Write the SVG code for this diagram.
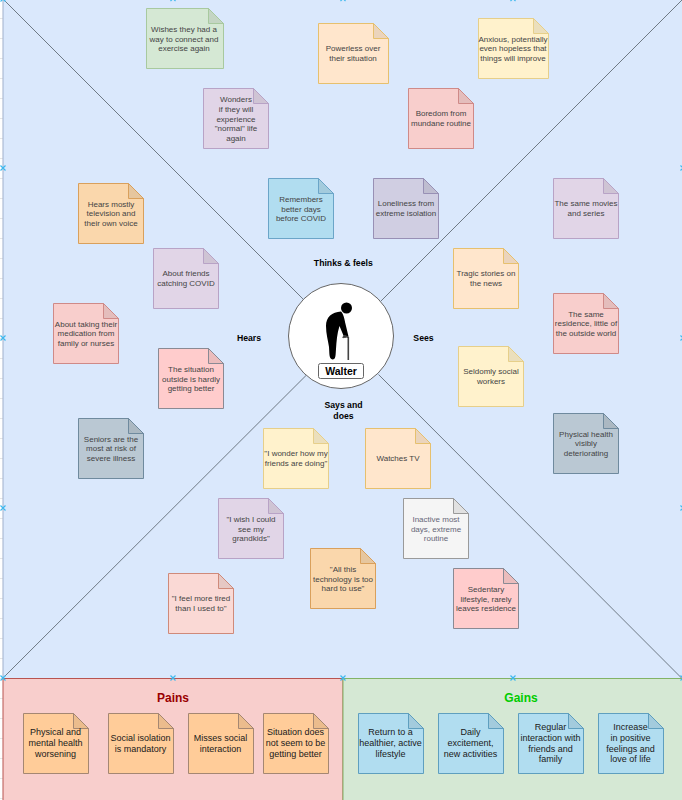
<svg xmlns="http://www.w3.org/2000/svg" width="682" height="800" viewBox="0 0 682 800">
<defs>
<path id="x" d="M-2.500-2.500L2.500 2.500M-2.500 2.500L2.500-2.500" fill="none" stroke="#3db8ee" stroke-width="1.200"/>
</defs>
<style>
text{font-family:"Liberation Sans",Arial,sans-serif;font-size:8px;text-anchor:middle;fill:#444}
.b{font-weight:bold;fill:#000;font-size:8.700px}
.pa text,.ga text{font-size:9px;fill:#1a1a1a}
.g path{fill:#d5e8d4;stroke:#a8c99f}
.o path{fill:#ffe6cc;stroke:#e6c06e}
.y path{fill:#fff2cc;stroke:#e6cf8a}
.p path{fill:#e1d5e7;stroke:#b8a3c6}
.r path{fill:#f8cecc;stroke:#cf8a88}
.h path{fill:#ffcccc;stroke:#8a8a94}
.u path{fill:#b1ddf0;stroke:#6ba5c8}
.l path{fill:#d0cee2;stroke:#9890b5}
.a path{fill:#fad7ac;stroke:#d9a05c}
.s path{fill:#bac8d3;stroke:#6f8a9e}
.w path{fill:#f5f5f5;stroke:#9a9a9a}
.w text{fill:#667}
.t path{fill:#fad9d5;stroke:#cf8a7a}
.pa path{fill:#ffcc99;stroke:#a58772}
.ga path{fill:#b1ddf0;stroke:#5f9fbf}
path.fold{fill:#000;fill-opacity:.08}
</style>
<rect width="682" height="800" fill="#fff"/>
<path d="M1.500 18V800" stroke="#e6e6e6" stroke-width="3" stroke-dasharray="1 19" fill="none"/>
<rect x="3" y="-1" width="680" height="680" fill="#dae8fc" stroke="#9fb0cc"/>
<g id="connectors" fill="none" stroke="#6f7a85" stroke-width="1">
<path d="M4 0L303 299"/>
<path d="M682 0L381 301"/>
<path d="M3 678L306 375.500"/>
<path d="M682 678.500L378.500 374.500"/>
</g>
<g id="pains-area"><rect x="3" y="678.500" width="340" height="122" fill="#f8cecc" stroke="#b85450"/><text class="b" x="173" y="702" style="font-size:12px;fill:#990000">Pains</text></g>
<g id="gains-area"><rect x="343" y="678.500" width="340" height="122" fill="#d5e8d4" stroke="#82b366"/><text class="b" x="521" y="702" style="font-size:12px;fill:#00cc00">Gains</text></g>
<g id="persona">
<circle cx="341" cy="336" r="52.500" fill="#fff" stroke="#666"/>
<circle cx="346.500" cy="308" r="5.500" fill="#000"/>
<path d="M341 311.500C332 312 326 317 326 326C326 334 328 340 329 347C329.500 354 329 359 332.500 359.500C336 359.500 335.500 355 336 349C336.500 341 337 334 339.500 326L344.500 338L348.500 336.500L345.500 324C344.500 319 343.500 314 341 311.500Z" fill="#000"/>
<path d="M343 338Q343.500 335.500 345.500 336L348.300 337.500V360" fill="none" stroke="#444" stroke-width="1.600"/>
<rect x="318.500" y="363.500" width="45" height="15" rx="2" fill="#fff" stroke="#666"/>
<text class="b" x="341" y="375" style="font-size:10.500px">Walter</text>
</g>
<g id="labels">
<text class="b" x="343.300" y="266">Thinks &amp; feels</text>
<text class="b" x="249" y="341">Hears</text>
<text class="b" x="423.500" y="341">Sees</text>
<text class="b" x="343.500" y="408">Says and</text>
<text class="b" x="343.500" y="419">does</text>
</g>
<g id="note-wishes" class="n g"><path d="M146.500 8.500H208.500L223.500 23.500V68.500H146.500Z"/><path class="fold" d="M208.500 8.500V23.500H223.500Z"/><text x="184" y="32">Wishes they had a</text><text x="184" y="41.500">way to connect and</text><text x="184" y="51">exercise again</text></g>
<g id="note-powerless" class="n o"><path d="M318.500 23.500H373.500L388.500 38.500V83.500H318.500Z"/><path class="fold" d="M373.500 23.500V38.500H388.500Z"/><text x="353" y="51">Powerless over</text><text x="353" y="61">their situation</text></g>
<g id="note-anxious" class="n y"><path d="M478.500 18.500H533.500L548.500 33.500V78.500H478.500Z"/><path class="fold" d="M533.500 18.500V33.500H548.500Z"/><text x="513" y="42">Anxious, potentially</text><text x="513" y="51">even hopeless that</text><text x="513" y="61">things will improve</text></g>
<g id="note-wonders" class="n p"><path d="M203.500 88.500H253.500L268.500 103.500V148.500H203.500Z"/><path class="fold" d="M253.500 88.500V103.500H268.500Z"/><text x="236" y="102">Wonders</text><text x="236" y="112">if they will</text><text x="236" y="121.500">experience</text><text x="236" y="131">"normal" life</text><text x="236" y="141">again</text></g>
<g id="note-boredom" class="n r"><path d="M408.500 88.500H458.500L473.500 103.500V148.500H408.500Z"/><path class="fold" d="M458.500 88.500V103.500H473.500Z"/><text x="441" y="116">Boredom from</text><text x="441" y="126">mundane routine</text></g>
<g id="note-remembers" class="n u"><path d="M268.500 178.500H318.500L333.500 193.500V238.500H268.500Z"/><path class="fold" d="M318.500 178.500V193.500H333.500Z"/><text x="301" y="202">Remembers</text><text x="301" y="211.500">better days</text><text x="301" y="221">before COVID</text></g>
<g id="note-loneliness" class="n l"><path d="M373.500 178.500H423.500L438.500 193.500V238.500H373.500Z"/><path class="fold" d="M423.500 178.500V193.500H438.500Z"/><text x="406" y="206">Loneliness from</text><text x="406" y="216">extreme isolation</text></g>
<g id="note-movies" class="n p"><path d="M553.500 178.500H603.500L618.500 193.500V238.500H553.500Z"/><path class="fold" d="M603.500 178.500V193.500H618.500Z"/><text x="586" y="206">The same movies</text><text x="586" y="216">and series</text></g>
<g id="note-hears" class="n a"><path d="M78.500 183.500H128.500L143.500 198.500V243.500H78.500Z"/><path class="fold" d="M128.500 183.500V198.500H143.500Z"/><text x="111" y="207">Hears mostly</text><text x="111" y="216">television and</text><text x="111" y="226">their own voice</text></g>
<g id="note-friends" class="n p"><path d="M153.500 248.500H203.500L218.500 263.500V308.500H153.500Z"/><path class="fold" d="M203.500 248.500V263.500H218.500Z"/><text x="186" y="276">About friends</text><text x="186" y="286">catching COVID</text></g>
<g id="note-tragic" class="n o"><path d="M453.500 248.500H503.500L518.500 263.500V308.500H453.500Z"/><path class="fold" d="M503.500 248.500V263.500H518.500Z"/><text x="486" y="276">Tragic stories on</text><text x="486" y="286">the news</text></g>
<g id="note-medication" class="n r"><path d="M53.500 303.500H103.500L118.500 318.500V363.500H53.500Z"/><path class="fold" d="M103.500 303.500V318.500H118.500Z"/><text x="86" y="327">About taking their</text><text x="86" y="336">medication from</text><text x="86" y="346">family or nurses</text></g>
<g id="note-residence" class="n r"><path d="M553.500 293.500H603.500L618.500 308.500V353.500H553.500Z"/><path class="fold" d="M603.500 293.500V308.500H618.500Z"/><text x="586" y="317">The same</text><text x="586" y="326">residence, little of</text><text x="586" y="336">the outside world</text></g>
<g id="note-situation" class="n h"><path d="M158.500 348.500H208.500L223.500 363.500V408.500H158.500Z"/><path class="fold" d="M208.500 348.500V363.500H223.500Z"/><text x="191" y="372">The situation</text><text x="191" y="381.500">outside is hardly</text><text x="191" y="391">getting better</text></g>
<g id="note-social" class="n y"><path d="M458.500 346.500H508.500L523.500 361.500V406.500H458.500Z"/><path class="fold" d="M508.500 346.500V361.500H523.500Z"/><text x="491" y="374">Seldomly social</text><text x="491" y="384">workers</text></g>
<g id="note-seniors" class="n s"><path d="M78.500 418.500H128.500L143.500 433.500V478.500H78.500Z"/><path class="fold" d="M128.500 418.500V433.500H143.500Z"/><text x="111" y="442">Seniors are the</text><text x="111" y="451">most at risk of</text><text x="111" y="461">severe illness</text></g>
<g id="note-health" class="n s"><path d="M553.500 413.500H603.500L618.500 428.500V473.500H553.500Z"/><path class="fold" d="M603.500 413.500V428.500H618.500Z"/><text x="586" y="437">Physical health</text><text x="586" y="446">visibly</text><text x="586" y="456">deteriorating</text></g>
<g id="note-wonder" class="n y"><path d="M263.500 428.500H313.500L328.500 443.500V488.500H263.500Z"/><path class="fold" d="M313.500 428.500V443.500H328.500Z"/><text x="296" y="456">"I wonder how my</text><text x="296" y="466">friends are doing"</text></g>
<g id="note-tv" class="n o"><path d="M365.500 428.500H415.500L430.500 443.500V488.500H365.500Z"/><path class="fold" d="M415.500 428.500V443.500H430.500Z"/><text x="398" y="461">Watches TV</text></g>
<g id="note-inactive" class="n w"><path d="M403.500 498.500H453.500L468.500 513.500V558.500H403.500Z"/><path class="fold" d="M453.500 498.500V513.500H468.500Z"/><text x="436" y="522">Inactive most</text><text x="436" y="531.500">days, extreme</text><text x="436" y="541">routine</text></g>
<g id="note-grandkids" class="n p"><path d="M218.500 498.500H268.500L283.500 513.500V558.500H218.500Z"/><path class="fold" d="M268.500 498.500V513.500H283.500Z"/><text x="251" y="522">"I wish I could</text><text x="251" y="531.500">see my</text><text x="251" y="541">grandkids"</text></g>
<g id="note-technology" class="n a"><path d="M310.500 548.500H360.500L375.500 563.500V608.500H310.500Z"/><path class="fold" d="M360.500 548.500V563.500H375.500Z"/><text x="343" y="572">"All this</text><text x="343" y="581.500">technology is too</text><text x="343" y="591">hard to use"</text></g>
<g id="note-sedentary" class="n h"><path d="M453.500 568.500H503.500L518.500 583.500V628.500H453.500Z"/><path class="fold" d="M503.500 568.500V583.500H518.500Z"/><text x="486" y="592">Sedentary</text><text x="486" y="601.500">lifestyle, rarely</text><text x="486" y="611">leaves residence</text></g>
<g id="note-tired" class="n t"><path d="M168.500 573.500H218.500L233.500 588.500V633.500H168.500Z"/><path class="fold" d="M218.500 573.500V588.500H233.500Z"/><text x="201" y="601">"I feel more tired</text><text x="201" y="611">than I used to"</text></g>
<g id="pain-1" class="n pa"><path d="M23.500 713.500H73.500L88.500 728.500V773.500H23.500Z"/><path class="fold" d="M73.500 713.500V728.500H88.500Z"/><text x="55.500" y="735">Physical and</text><text x="55.500" y="746">mental health</text><text x="55.500" y="757">worsening</text></g>
<g id="pain-2" class="n pa"><path d="M108.500 713.500H158.500L173.500 728.500V773.500H108.500Z"/><path class="fold" d="M158.500 713.500V728.500H173.500Z"/><text x="140.500" y="741">Social isolation</text><text x="140.500" y="752">is mandatory</text></g>
<g id="pain-3" class="n pa"><path d="M188.500 713.500H238.500L253.500 728.500V773.500H188.500Z"/><path class="fold" d="M238.500 713.500V728.500H253.500Z"/><text x="220.500" y="741">Misses social</text><text x="220.500" y="752">interaction</text></g>
<g id="pain-4" class="n pa"><path d="M263.500 713.500H313.500L328.500 728.500V773.500H263.500Z"/><path class="fold" d="M313.500 713.500V728.500H328.500Z"/><text x="295.500" y="735">Situation does</text><text x="295.500" y="746">not seem to be</text><text x="295.500" y="757">getting better</text></g>
<g id="gain-1" class="n ga"><path d="M358.500 713.500H408.500L423.500 728.500V773.500H358.500Z"/><path class="fold" d="M408.500 713.500V728.500H423.500Z"/><text x="390.500" y="735">Return to a</text><text x="390.500" y="746">healthier, active</text><text x="390.500" y="757">lifestyle</text></g>
<g id="gain-2" class="n ga"><path d="M438.500 713.500H488.500L503.500 728.500V773.500H438.500Z"/><path class="fold" d="M488.500 713.500V728.500H503.500Z"/><text x="470.500" y="735">Daily</text><text x="470.500" y="746">excitement,</text><text x="470.500" y="757">new activities</text></g>
<g id="gain-3" class="n ga"><path d="M518.500 713.500H568.500L583.500 728.500V773.500H518.500Z"/><path class="fold" d="M568.500 713.500V728.500H583.500Z"/><text x="550.500" y="730">Regular</text><text x="550.500" y="741">interaction with</text><text x="550.500" y="752">friends and</text><text x="550.500" y="762">family</text></g>
<g id="gain-4" class="n ga"><path d="M598.500 713.500H648.500L663.500 728.500V773.500H598.500Z"/><path class="fold" d="M648.500 713.500V728.500H663.500Z"/><text x="630.500" y="730">Increase</text><text x="630.500" y="741">in positive</text><text x="630.500" y="752">feelings and</text><text x="630.500" y="762">love of life</text></g>
<g id="handles">
<use href="#x" x="3" y="168"/><use href="#x" x="3" y="338"/><use href="#x" x="3" y="508"/><use href="#x" x="3" y="678"/><use href="#x" x="173" y="678"/><use href="#x" x="343" y="678"/><use href="#x" x="513" y="678"/><use href="#x" x="683" y="678"/><use href="#x" x="173" y="-1.500"/><use href="#x" x="343" y="-1.500"/><use href="#x" x="513" y="-1.500"/><use href="#x" x="683" y="168"/><use href="#x" x="683" y="338"/><use href="#x" x="683" y="508"/><use href="#x" x="3" y="-1"/>
</g>
</svg>
